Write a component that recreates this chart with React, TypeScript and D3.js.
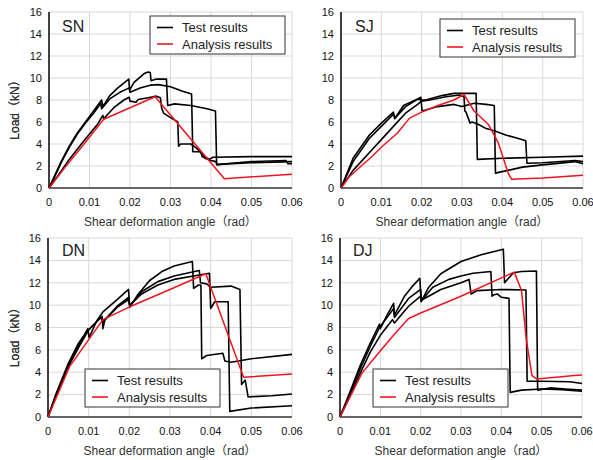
import React from "react";
import * as d3 from "d3";

type Pt = [number, number];

const X_TICKS = [0, 0.01, 0.02, 0.03, 0.04, 0.05, 0.06];
const Y_TICKS = [0, 2, 4, 6, 8, 10, 12, 14, 16];
const LEGEND_LABELS = ["Test results", "Analysis results"];
const X_TITLE = "Shear deformation angle（rad）";
const Y_TITLE = "Load（kN）";

// SN
const snTest1: Pt[] = [
  [0, 0], [0.001, 0.8], [0.003, 2.4], [0.005, 3.8], [0.007, 5.0], [0.009, 6.0], [0.011, 7.0],
  [0.013, 8.0], [0.0133, 7.4], [0.015, 8.4], [0.017, 9.1], [0.0197, 9.9], [0.0199, 8.9],
  [0.021, 9.6], [0.0235, 10.4], [0.0245, 10.55], [0.025, 10.5], [0.0252, 9.75], [0.0265, 9.9],
  [0.029, 9.9], [0.0293, 7.5], [0.031, 7.65], [0.035, 7.5], [0.039, 7.2], [0.0411, 7.0],
  [0.0414, 2.1], [0.045, 2.25], [0.05, 2.4], [0.0585, 2.5], [0.059, 2.2], [0.06, 2.2],
];
const snTest2: Pt[] = [
  [0, 0], [0.001, 0.7], [0.003, 2.3], [0.005, 3.7], [0.007, 4.9], [0.009, 5.9], [0.011, 6.8],
  [0.0128, 7.7], [0.013, 7.2], [0.015, 8.1], [0.0175, 8.7], [0.0198, 9.1], [0.02, 8.7],
  [0.0225, 9.1], [0.025, 9.35], [0.027, 9.4], [0.03, 9.2], [0.033, 8.8], [0.0352, 8.55],
  [0.0355, 3.3], [0.0375, 3.3], [0.0378, 2.85], [0.039, 2.75], [0.0395, 2.6], [0.0405, 2.8],
  [0.05, 2.85], [0.06, 2.85],
];
const snTest3: Pt[] = [
  [0, 0], [0.002, 1.0], [0.005, 2.6], [0.008, 4.0], [0.01, 4.9], [0.012, 5.8], [0.0133, 6.6],
  [0.0135, 6.3], [0.016, 7.3], [0.0185, 8.0], [0.0198, 8.25], [0.02, 7.9], [0.0215, 7.8],
  [0.022, 8.05], [0.0245, 8.2], [0.0265, 8.35], [0.0275, 8.2], [0.0278, 7.3], [0.0283, 6.8],
  [0.03, 6.4], [0.0318, 6.0], [0.032, 3.8], [0.0325, 4.0], [0.035, 4.0], [0.0365, 3.6],
  [0.038, 3.0], [0.0385, 2.7], [0.04, 2.5], [0.0412, 2.4], [0.0415, 2.15], [0.05, 2.3], [0.06, 2.4],
];
const snAnalysis: Pt[] = [
  [0, 0], [0.004, 1.9], [0.008, 3.7], [0.0135, 6.25], [0.0262, 8.3], [0.0433, 0.85], [0.06, 1.25],
];

// SJ
const sjTest1: Pt[] = [
  [0, 0], [0.003, 2.7], [0.007, 4.8], [0.01, 5.9], [0.013, 6.9], [0.0133, 6.3], [0.0155, 7.5],
  [0.019, 8.1], [0.0198, 8.0], [0.021, 8.0], [0.025, 8.4], [0.028, 8.6], [0.0335, 8.6],
  [0.0338, 2.6], [0.04, 2.7], [0.05, 2.8], [0.06, 2.9],
];
const sjTest2: Pt[] = [
  [0, 0], [0.003, 2.4], [0.007, 4.5], [0.01, 5.6], [0.013, 6.7], [0.0135, 6.4], [0.016, 7.4],
  [0.0198, 8.25], [0.0201, 7.0], [0.024, 7.4], [0.028, 7.6], [0.03, 7.4], [0.033, 7.7],
  [0.036, 7.6], [0.038, 7.5], [0.0383, 1.35], [0.045, 1.9], [0.05, 2.1], [0.058, 2.4], [0.06, 2.2],
];
const sjTest3: Pt[] = [
  [0, 0], [0.003, 1.6], [0.007, 3.2], [0.01, 4.4], [0.013, 5.6], [0.016, 6.8], [0.019, 7.6],
  [0.02, 7.9], [0.022, 8.0], [0.026, 8.3], [0.0295, 8.45], [0.0305, 8.3], [0.0307, 7.0],
  [0.031, 6.9], [0.032, 5.9], [0.0325, 6.0], [0.034, 5.8], [0.036, 5.4], [0.038, 5.2],
  [0.041, 4.8], [0.044, 4.5], [0.0458, 4.3], [0.0461, 2.25], [0.05, 2.3], [0.058, 2.5], [0.06, 2.4],
];
const sjAnalysis: Pt[] = [
  [0, 0], [0.002, 1.0], [0.005, 2.0], [0.0075, 2.8], [0.01, 3.7], [0.014, 5.0], [0.017, 6.35],
  [0.02, 6.9], [0.024, 7.5], [0.028, 8.0], [0.0305, 8.5], [0.033, 7.0], [0.0365, 5.8],
  [0.039, 4.1], [0.0415, 1.3], [0.0423, 0.8], [0.05, 0.9], [0.06, 1.15],
];

// DN
const dnTest1: Pt[] = [
  [0, 0], [0.002, 2.0], [0.005, 4.6], [0.0075, 6.4], [0.0098, 7.9], [0.0101, 7.1], [0.012, 8.6],
  [0.0135, 9.4], [0.017, 10.5], [0.0198, 11.4], [0.0201, 9.8], [0.022, 10.9], [0.025, 12.2],
  [0.028, 13.0], [0.031, 13.5], [0.0355, 13.9], [0.0358, 11.5], [0.037, 11.8], [0.0376, 11.8],
  [0.0378, 5.2], [0.039, 5.5], [0.043, 5.7], [0.0435, 5.0], [0.045, 4.9], [0.05, 5.2], [0.06, 5.6],
];
const dnTest2: Pt[] = [
  [0, 0], [0.002, 2.1], [0.005, 4.8], [0.0075, 6.6], [0.0095, 7.6], [0.0133, 9.0], [0.0135, 7.9],
  [0.014, 8.7], [0.017, 9.9], [0.0198, 10.7], [0.0201, 9.9], [0.023, 11.2], [0.027, 12.1],
  [0.031, 12.6], [0.0372, 13.1], [0.0375, 12.0], [0.039, 11.9], [0.04, 11.6], [0.045, 11.7],
  [0.0472, 11.4], [0.0476, 2.9], [0.0485, 3.3], [0.0492, 1.8], [0.055, 1.9], [0.06, 2.05],
];
const dnTest3: Pt[] = [
  [0, 0], [0.002, 1.9], [0.005, 4.5], [0.0075, 6.2], [0.01, 7.8], [0.013, 8.9], [0.0135, 8.5],
  [0.017, 9.8], [0.0198, 10.5], [0.0201, 10.0], [0.023, 11.0], [0.027, 11.8], [0.031, 12.3],
  [0.0397, 12.85], [0.04, 9.7], [0.041, 10.3], [0.0443, 10.3], [0.0447, 0.5], [0.05, 0.8], [0.06, 1.0],
];
const dnAnalysis: Pt[] = [
  [0, 0], [0.0053, 4.5], [0.0135, 8.7], [0.0201, 9.85], [0.03, 11.4], [0.0388, 12.8],
  [0.0481, 3.55], [0.06, 3.85],
];

// DJ
const djTest1: Pt[] = [
  [0, 0], [0.002, 1.8], [0.005, 4.6], [0.0075, 6.6], [0.0098, 8.3], [0.01, 7.9], [0.0115, 9.0],
  [0.0133, 10.15], [0.0135, 9.1], [0.016, 10.8], [0.018, 11.7], [0.0198, 12.4], [0.0201, 10.3],
  [0.022, 11.6], [0.025, 12.8], [0.03, 13.9], [0.035, 14.5], [0.0405, 15.0], [0.0408, 12.0],
  [0.042, 12.5], [0.043, 12.9], [0.045, 13.0], [0.0487, 13.05], [0.049, 2.4], [0.052, 2.6],
  [0.056, 2.5], [0.06, 2.4],
];
const djTest2: Pt[] = [
  [0, 0], [0.002, 1.7], [0.005, 4.3], [0.0075, 6.3], [0.0098, 8.0], [0.0133, 9.7], [0.0135, 8.9],
  [0.017, 10.6], [0.02, 11.4], [0.0202, 10.4], [0.023, 11.6], [0.027, 12.3], [0.03, 12.6],
  [0.033, 12.85], [0.0374, 13.0], [0.0377, 10.8], [0.038, 10.9], [0.039, 11.0], [0.04, 10.7],
  [0.0419, 10.6], [0.0422, 2.2], [0.045, 2.4], [0.05, 2.5], [0.055, 2.45], [0.06, 2.3],
];
const djTest3: Pt[] = [
  [0, 0], [0.002, 1.5], [0.005, 3.9], [0.0075, 5.8], [0.01, 7.3], [0.013, 8.7], [0.0135, 8.4],
  [0.017, 9.9], [0.02, 10.8], [0.0205, 10.5], [0.025, 11.4], [0.03, 12.0], [0.032, 12.3],
  [0.0325, 11.0], [0.034, 11.3], [0.04, 11.4], [0.0461, 11.35], [0.0464, 3.2], [0.05, 3.2],
  [0.057, 3.15], [0.06, 3.0],
];
const djAnalysis: Pt[] = [
  [0, 0], [0.0025, 1.8], [0.0054, 3.9], [0.0095, 5.7], [0.013, 7.2], [0.017, 8.8], [0.02, 9.3],
  [0.0297, 10.75], [0.0432, 12.95], [0.045, 11.3], [0.0462, 6.9], [0.0476, 3.7], [0.0488, 3.4],
  [0.052, 3.5], [0.055, 3.6], [0.058, 3.7], [0.06, 3.75],
];

const FONT = "'Liberation Sans', Arial, 'Noto Sans CJK JP', sans-serif";
const RED = "#f0141e";

const panels = [
  { name: "SN", tests: [snTest1, snTest2, snTest3], analysis: snAnalysis, left: 49, right: 292, top: 12, bottom: 188, lx: 150, ly: 16, nx: 62, ny: 32 },
  { name: "SJ", tests: [sjTest1, sjTest2, sjTest3], analysis: sjAnalysis, left: 341, right: 583, top: 12, bottom: 188, lx: 440, ly: 19, nx: 355, ny: 32 },
  { name: "DN", tests: [dnTest1, dnTest2, dnTest3], analysis: dnAnalysis, left: 48, right: 292, top: 238, bottom: 417, lx: 85, ly: 369, nx: 62, ny: 256 },
  { name: "DJ", tests: [djTest1, djTest2, djTest3], analysis: djAnalysis, left: 340, right: 582, top: 238, bottom: 417, lx: 373, ly: 369, nx: 353, ny: 256 },
];

function Panel({ p }: { p: (typeof panels)[number] }) {
  const x = d3.scaleLinear().domain([0, 0.06]).range([p.left, p.right]);
  const y = d3.scaleLinear().domain([0, 16]).range([p.bottom, p.top]);
  const line = d3.line<Pt>().x((d) => x(d[0])).y((d) => y(d[1]));
  const fmt = (v: number) => (v === 0 ? "0" : d3.format(".2f")(v));
  const midY = (p.top + p.bottom) / 2;
  return (
    <g fontFamily={FONT}>
      {Y_TICKS.filter((t) => t > 0).map((t) => (
        <line key={"gy" + t} x1={p.left} x2={p.right} y1={y(t)} y2={y(t)} stroke="#d9d9d9" strokeWidth={1} />
      ))}
      {X_TICKS.filter((t) => t > 0).map((t) => (
        <line key={"gx" + t} x1={x(t)} x2={x(t)} y1={p.top} y2={p.bottom} stroke="#d9d9d9" strokeWidth={1} />
      ))}
      <line x1={p.left} x2={p.right} y1={p.bottom} y2={p.bottom} stroke="#666" strokeWidth={1.8} />
      <line x1={p.left} x2={p.left} y1={p.top} y2={p.bottom} stroke="#000" strokeWidth={1.5} />
      {Y_TICKS.map((t) => (
        <text key={"ty" + t} x={p.left - 7} y={y(t)} dy="0.35em" textAnchor="end" fontSize={11} fill="#111">
          {t}
        </text>
      ))}
      {X_TICKS.map((t) => (
        <text key={"tx" + t} x={x(t)} y={p.bottom + 17.5} textAnchor="middle" fontSize={11} fill="#111">
          {fmt(t)}
        </text>
      ))}
      <text x={(p.left + p.right) / 2} y={p.bottom + 38} textAnchor="middle" fontSize={12} fill="#333">
        {X_TITLE}
      </text>
      <text transform={`translate(19,${midY + 7}) rotate(-90)`} textAnchor="middle" fontSize={12} fill="#333">
        {Y_TITLE}
      </text>
      {p.tests.map((d, i) => (
        <path key={"t" + i} d={line(d) ?? ""} fill="none" stroke="#000" strokeWidth={1.6} strokeLinejoin="round" />
      ))}
      <path d={line(p.analysis) ?? ""} fill="none" stroke={RED} strokeWidth={1.5} strokeLinejoin="round" />
      <text x={p.nx} y={p.ny} fontSize={16} fill="#222">
        {p.name}
      </text>
      <g transform={`translate(${p.lx},${p.ly})`}>
        <rect x={0} y={0} width={135} height={38} fill="#fff" stroke="#333" strokeWidth={1} />
        {LEGEND_LABELS.map((lab, i) => (
          <g key={lab} transform={`translate(0,${11.5 + i * 16.5})`}>
            <line x1={7} x2={23} y1={0} y2={0} stroke={i === 0 ? "#000" : RED} strokeWidth={1.6} />
            <text x={32} y={0} dy="0.36em" fontSize={13} fill="#222">
              {lab}
            </text>
          </g>
        ))}
      </g>
    </g>
  );
}

export default function App() {
  return (
    <svg width={593} height={460} style={{ position: "absolute", left: 0, top: 0, background: "#fff" }}>
      {panels.map((p) => (
        <Panel key={p.name} p={p} />
      ))}
    </svg>
  );
}
